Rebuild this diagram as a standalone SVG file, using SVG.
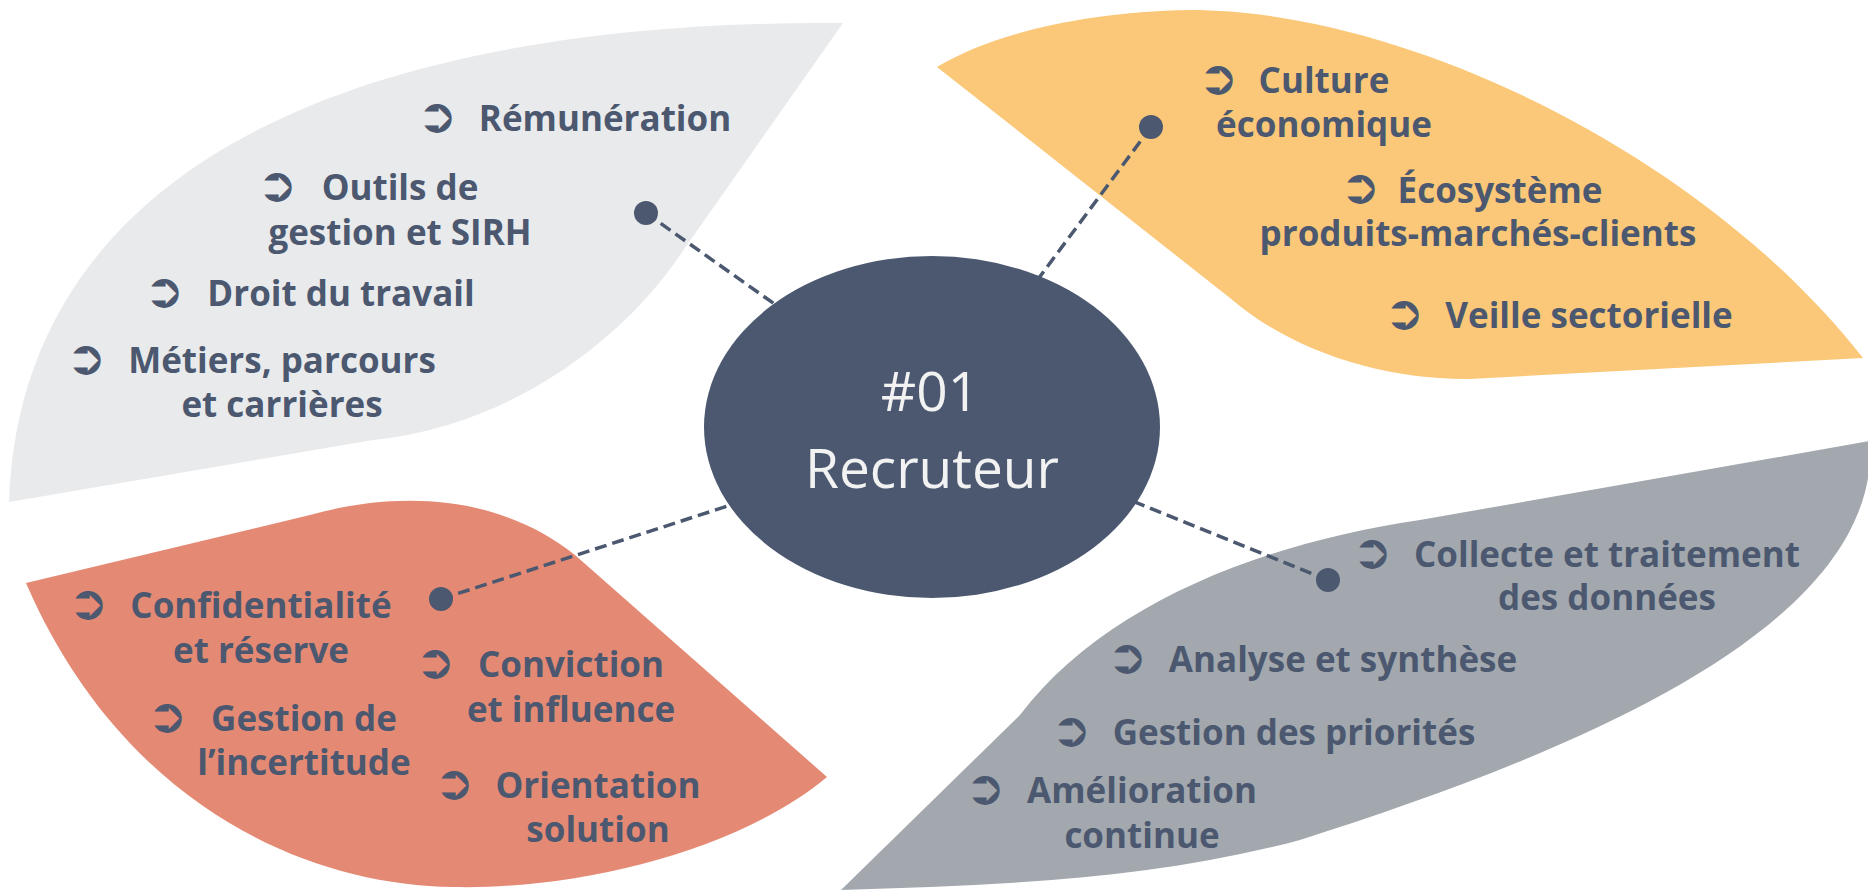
<svg xmlns="http://www.w3.org/2000/svg" width="1868" height="890" viewBox="0 0 1868 890">
<style>
.t{font-family:"Open Sans","Liberation Sans",sans-serif;font-weight:700;font-size:35px;fill:#4B586F;text-anchor:middle}
.b{font-family:"DejaVu Sans",sans-serif;font-weight:400;font-size:48px;fill:#4B586F}
.c{font-family:"Open Sans","Liberation Sans",sans-serif;font-weight:400;font-size:55px;fill:#F2F2F2;text-anchor:middle}
.ln{stroke:#4B586F;stroke-width:3.5;stroke-dasharray:12 6;fill:none}
.dot{fill:#4B586F}
</style>
<rect width="1868" height="890" fill="#FFFFFF"/>
<g id="leaf-savoirs-rh">
<path d="M9 502 C20 180 330 20 843 23 L680 255 C630 330 520 425 373 440 Z" fill="#E9EAEC"/>
<text class="b" x="417" y="132">➲</text><text class="t" x="605" y="131">Rémunération</text>
<text class="b" x="257" y="201">➲</text><text class="t" x="400" y="200">Outils de</text><text class="t" x="400" y="245">gestion et SIRH</text>
<text class="b" x="144" y="307">➲</text><text class="t" x="341" y="306">Droit du travail</text>
<text class="b" x="66" y="374">➲</text><text class="t" x="282" y="373">Métiers, parcours</text><text class="t" x="282" y="417">et carrières</text>
</g>
<g id="leaf-savoirs-eco">
<path d="M937 67 C990 35 1080 12 1190 10 C1400 10 1700 150 1863 358 L1470 379 C1380 380 1290 350 1230 298 Z" fill="#FAC878"/>
<text class="b" x="1198" y="94">➲</text><text class="t" x="1324" y="93">Culture</text><text class="t" x="1324" y="137">économique</text>
<text class="b" x="1340" y="203">➲</text><text class="t" x="1500" y="203">Écosystème</text><text class="t" x="1478" y="246">produits-marchés-clients</text>
<text class="b" x="1384" y="329">➲</text><text class="t" x="1589" y="328">Veille sectorielle</text>
</g>
<g id="leaf-savoir-etre">
<path d="M26 583 L310 515 C400 490 500 495 575 555 L827 777 C740 850 580 890 453 887 C300 885 120 800 26 583 Z" fill="#E48A74"/>
<text class="b" x="68" y="619">➲</text><text class="t" x="261" y="618">Confidentialité</text><text class="t" x="261" y="663">et réserve</text>
<text class="b" x="415" y="678">➲</text><text class="t" x="571" y="677">Conviction</text><text class="t" x="571" y="722">et influence</text>
<text class="b" x="147" y="732">➲</text><text class="t" x="304" y="731">Gestion de</text><text class="t" x="304" y="775">l’incertitude</text>
<text class="b" x="434" y="799">➲</text><text class="t" x="598" y="798">Orientation</text><text class="t" x="598" y="842">solution</text>
</g>
<g id="leaf-savoir-faire">
<path d="M841 890 L1020 715 C1100 610 1250 545 1420 520 L1870 441 L1870 460 C1860 640 1550 760 1300 840 C1150 880 1000 885 841 890 Z" fill="#A2A8AE"/>
<text class="b" x="1352" y="568">➲</text><text class="t" x="1607" y="567">Collecte et traitement</text><text class="t" x="1607" y="610">des données</text>
<text class="b" x="1107" y="673">➲</text><text class="t" x="1343" y="672">Analyse et synthèse</text>
<text class="b" x="1051" y="746">➲</text><text class="t" x="1294" y="745">Gestion des priorités</text>
<text class="b" x="965" y="804">➲</text><text class="t" x="1142" y="803">Amélioration</text><text class="t" x="1142" y="848">continue</text>
</g>
<g id="connectors">
<line class="ln" x1="646" y1="213" x2="790" y2="315"/>
<line class="ln" x1="1151" y1="127" x2="1030" y2="290"/>
<line class="ln" x1="441" y1="599" x2="740" y2="502"/>
<line class="ln" x1="1328" y1="580" x2="1125" y2="498"/>
<circle class="dot" cx="646" cy="213" r="12"/>
<circle class="dot" cx="1151" cy="127" r="12"/>
<circle class="dot" cx="441" cy="599" r="12"/>
<circle class="dot" cx="1328" cy="580" r="12"/>
</g>
<g id="center">
<ellipse cx="932" cy="427" rx="228" ry="171" fill="#4B586F"/>
<text class="c" x="930" y="411">#01</text>
<text class="c" x="932" y="488">Recruteur</text>
</g>
</svg>
